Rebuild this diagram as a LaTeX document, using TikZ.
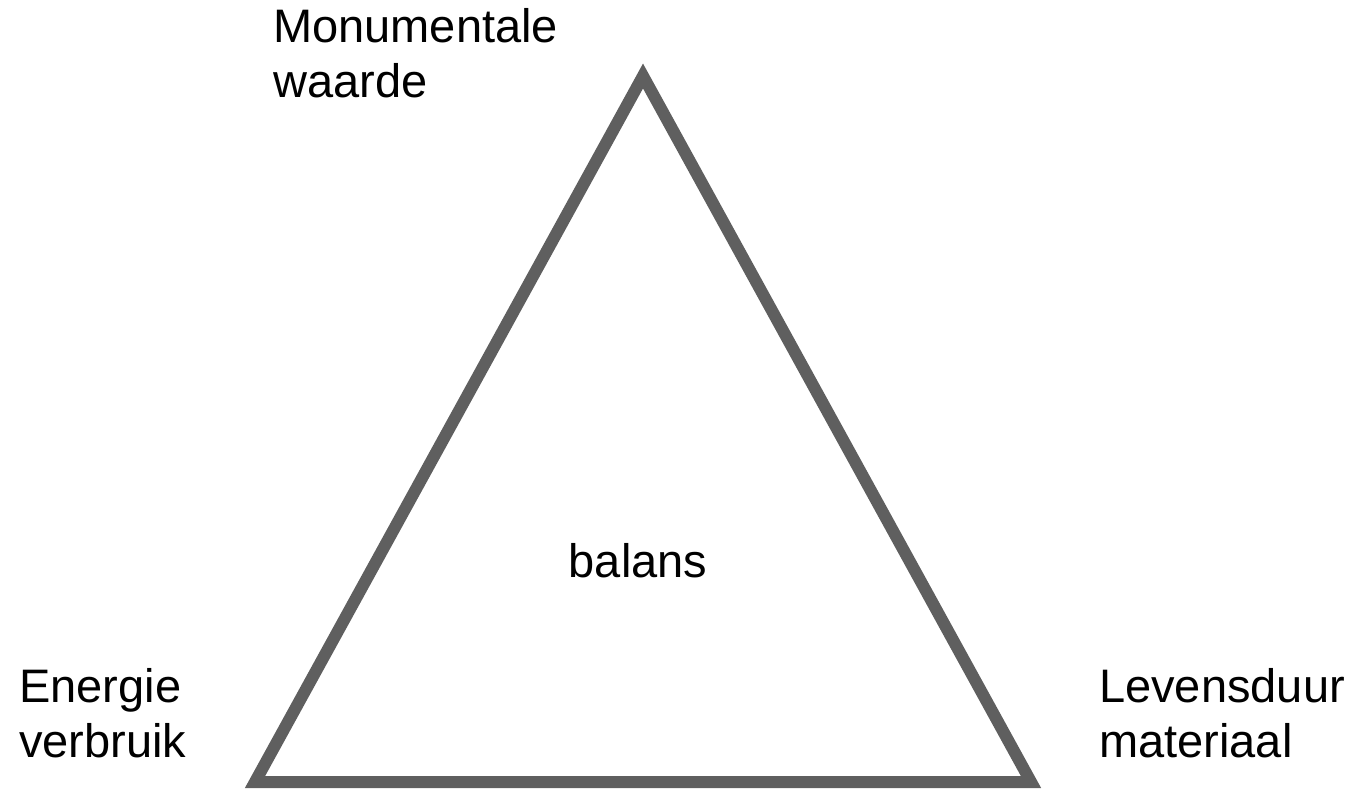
\documentclass[tikz,border=0pt]{standalone}
\usepackage{fontspec}
\setmainfont{Liberation Sans}
\definecolor{edgegray}{RGB}{95,95,95}
\tikzset{
  lbl/.style={inner sep=0pt, align=left, font=\fontsize{47}{55}\selectfont},
  tri/.style={draw=edgegray, line width=12pt, line join=miter}
}
\begin{document}
\begin{tikzpicture}[x=1pt,y=-1pt]
\useasboundingbox (0,0) rectangle (1352,788);
\coordinate (top) at (643,76);
\coordinate (bl) at (255,782);
\coordinate (br) at (1031,782);
\draw[tri] (top) -- (bl) -- (br) -- cycle;
\node[lbl, anchor=base west] (mon) at (273,97) {Monumentale\\waarde};
\node[lbl, anchor=base west] (ene) at (19,757) {Energie\\verbruik};
\node[lbl, anchor=base west] (lev) at (1099,757) {Levensduur\\materiaal};
\node[lbl, anchor=base] (bal) at (638,577) {balans};
\end{tikzpicture}
\end{document}
